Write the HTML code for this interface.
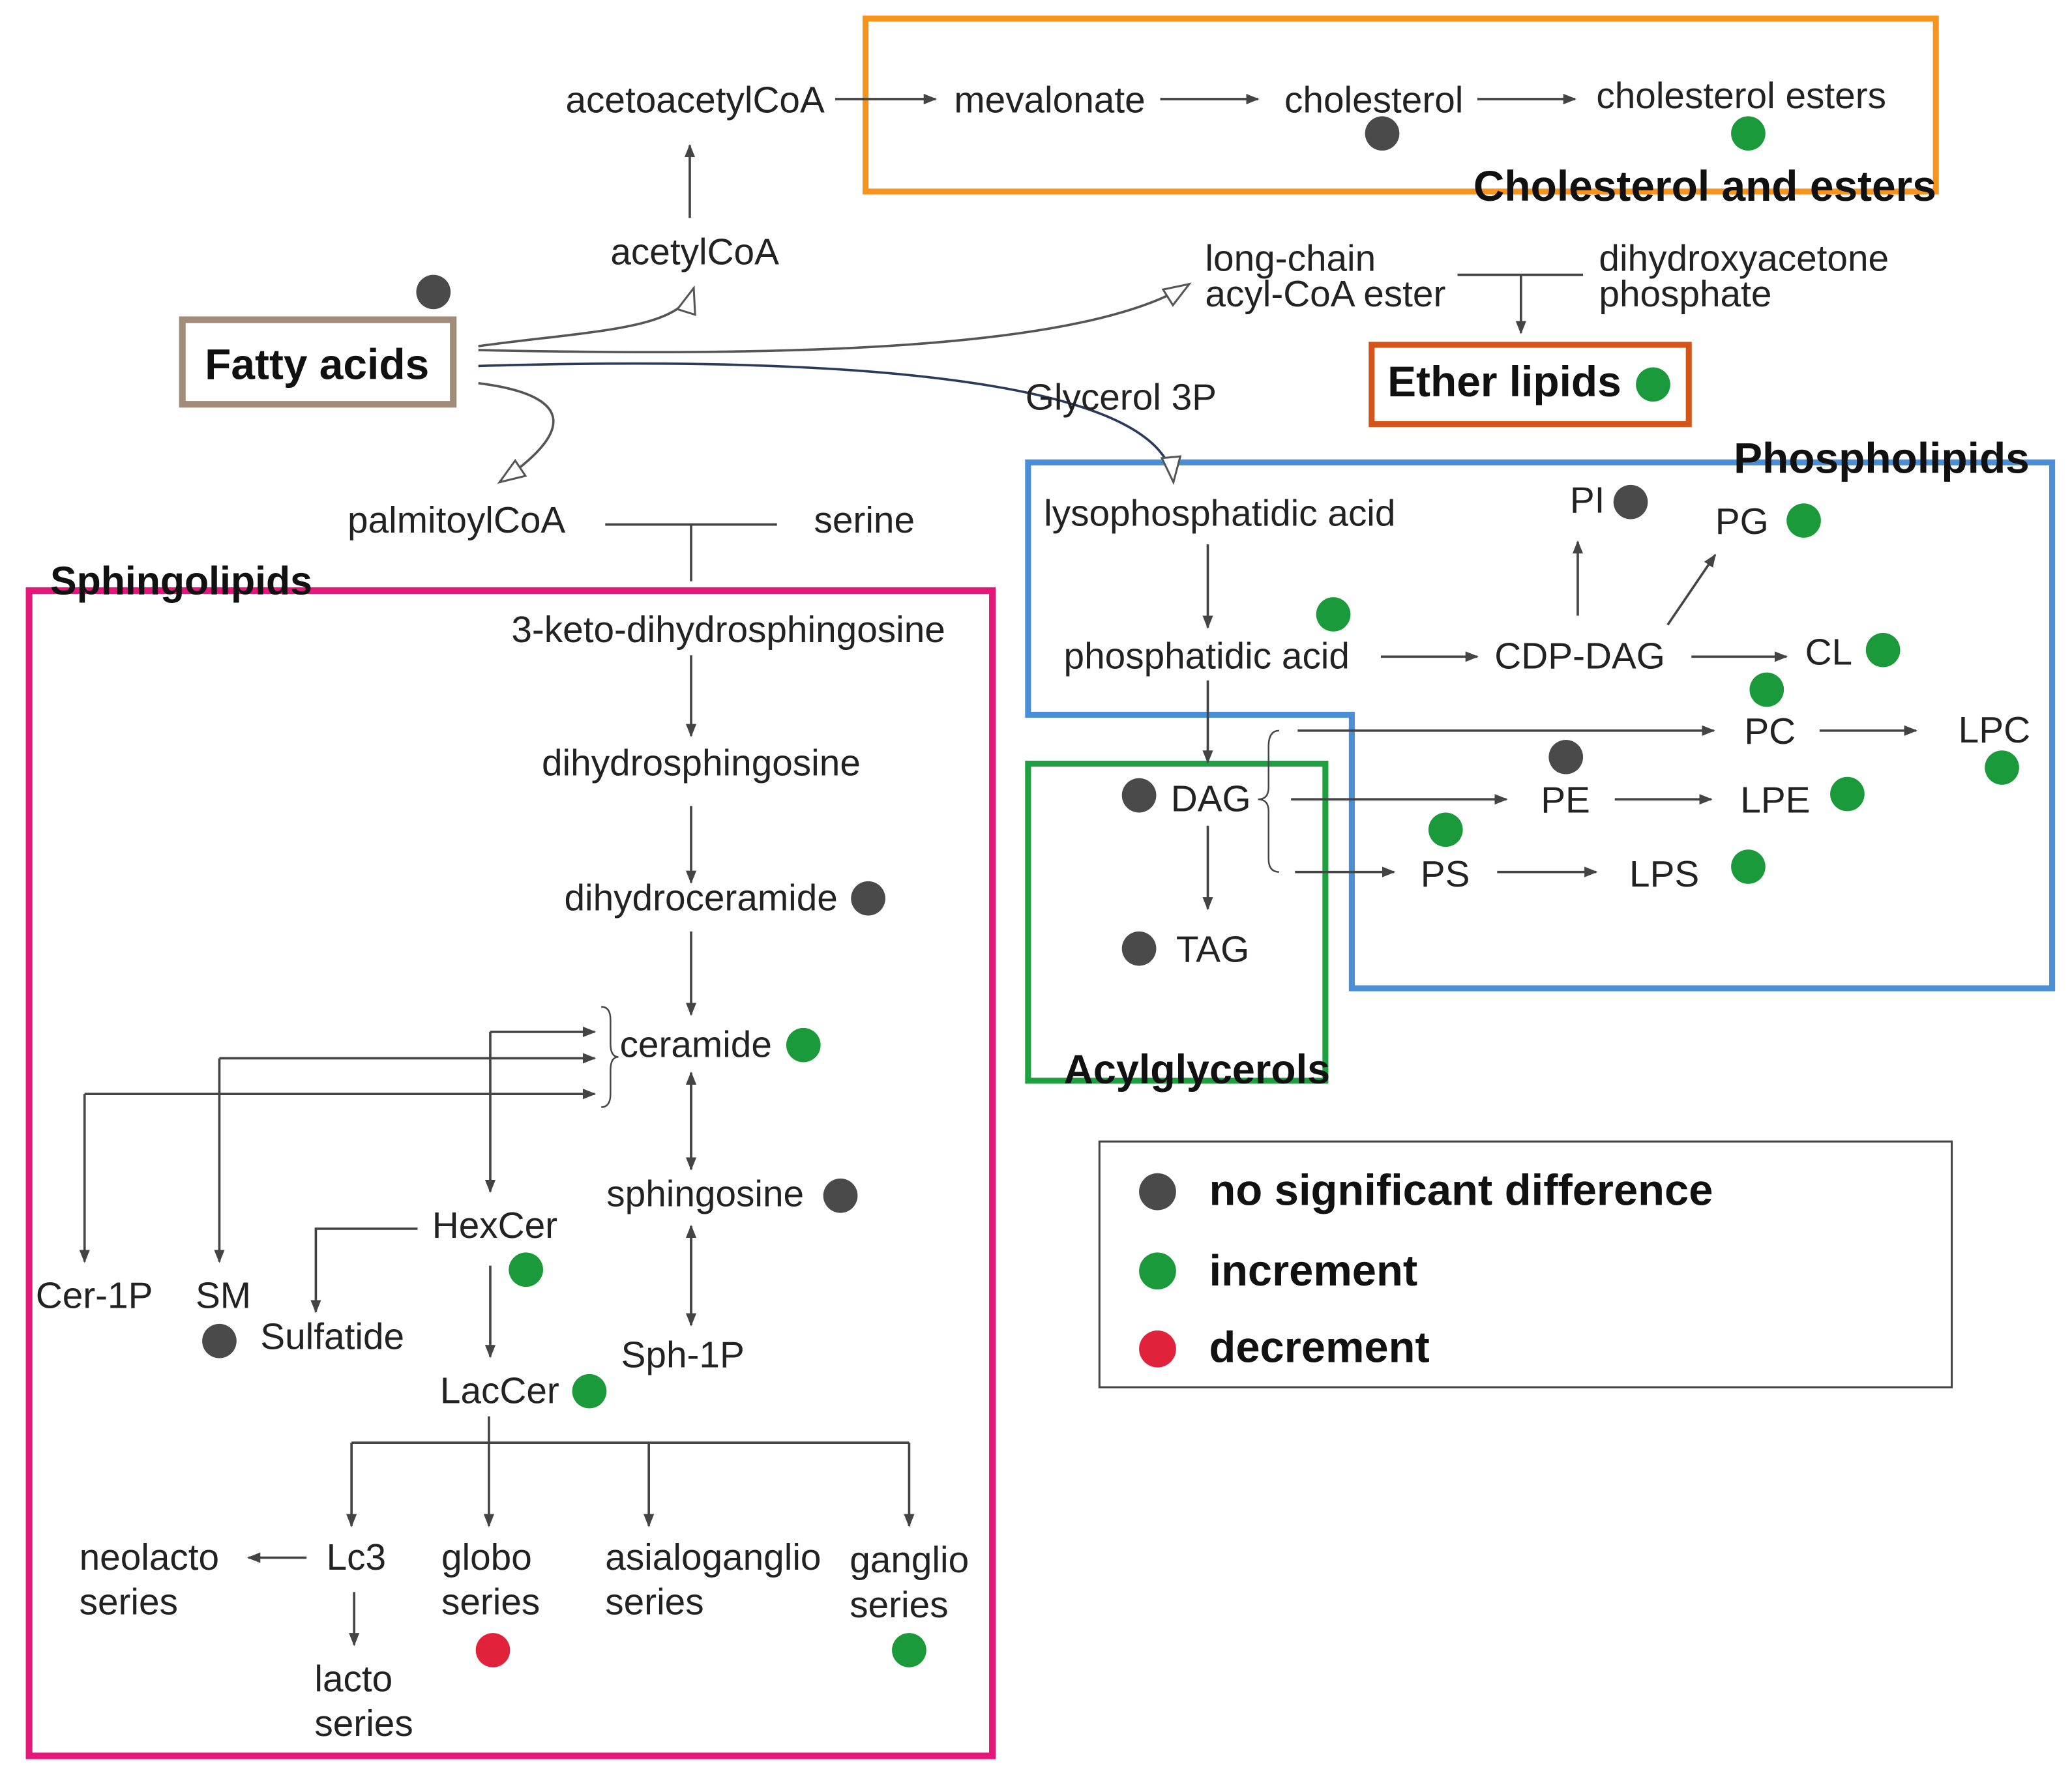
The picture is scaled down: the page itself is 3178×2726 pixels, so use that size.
<!DOCTYPE html>
<html><head><meta charset="utf-8"><style>
html,body{margin:0;padding:0;background:#fff}
svg{display:block}
text{font-family:"Liberation Sans",sans-serif;fill:#222;font-size:28px}
.b{font-weight:bold;font-size:33px;fill:#111}
</style></head><body>
<svg width="3178" height="2726" viewBox="0 0 1568 1345" xmlns="http://www.w3.org/2000/svg">
<defs>
<marker id="a" markerWidth="10" markerHeight="10" refX="9" refY="5" orient="auto" markerUnits="userSpaceOnUse"><path d="M0,1 L10,5 L0,9 z" fill="#444"/></marker>
<marker id="o" markerWidth="22" markerHeight="18" refX="20" refY="9" orient="auto" markerUnits="userSpaceOnUse"><path d="M1,2 L20,9 L1,16 z" fill="#fff" stroke="#555" stroke-width="1.5"/></marker>
</defs>
<g fill="none" stroke-width="4.5">
<rect x="655" y="14" width="810" height="131" stroke="#F7941D"/>
<rect x="138" y="242" width="205" height="64" stroke="#A08C78" stroke-width="5"/>
<rect x="1038" y="261" width="240" height="60" stroke="#D4541A"/>
<path d="M778,350 H1553 V748 H1023 V541 H778 Z" stroke="#4A8FD6"/>
<rect x="778" y="578" width="225" height="240" stroke="#1FA040"/>
<rect x="22" y="447" width="729" height="882" stroke="#E5177B" stroke-width="5"/>
<rect x="832" y="864" width="645" height="186" stroke="#444" stroke-width="1.5"/>
</g>
<g stroke="#444" stroke-width="1.8" fill="none" marker-end="url(#a)">
<line x1="632" y1="75" x2="708" y2="75"/><line x1="878" y1="75" x2="952" y2="75"/><line x1="1118" y1="75" x2="1192" y2="75"/>
<line x1="522" y1="165" x2="522" y2="110"/>
<line x1="1151" y1="208" x2="1151" y2="252"/>
<line x1="914" y1="412" x2="914" y2="475"/><line x1="1045" y1="497" x2="1118" y2="497"/>
<line x1="1194" y1="466" x2="1194" y2="410"/><line x1="1262" y1="473" x2="1298" y2="420"/>
<line x1="1280" y1="497" x2="1352" y2="497"/>
<line x1="982" y1="553" x2="1297" y2="553"/><line x1="1377" y1="553" x2="1450" y2="553"/>
<line x1="977" y1="605" x2="1140" y2="605"/><line x1="1222" y1="605" x2="1295" y2="605"/>
<line x1="980" y1="660" x2="1055" y2="660"/><line x1="1133" y1="660" x2="1208" y2="660"/>
<line x1="914" y1="515" x2="914" y2="577"/><line x1="914" y1="625" x2="914" y2="688"/>
<line x1="523" y1="496" x2="523" y2="557"/><line x1="523" y1="610" x2="523" y2="668"/><line x1="523" y1="705" x2="523" y2="768"/>
<line x1="523" y1="812" x2="523" y2="885"/><line x1="523" y1="885" x2="523" y2="812"/>
<line x1="523" y1="928" x2="523" y2="1003"/><line x1="523" y1="1003" x2="523" y2="928"/>
<line x1="371" y1="781" x2="450" y2="781"/><line x1="371" y1="781" x2="371" y2="902"/>
<line x1="166" y1="801" x2="450" y2="801"/><line x1="166" y1="801" x2="166" y2="955"/>
<line x1="64" y1="828" x2="450" y2="828"/><line x1="64" y1="828" x2="64" y2="955"/>
<path d="M316,930 H239 V993"/>
<line x1="371" y1="958" x2="371" y2="1027"/>
<line x1="370" y1="1072" x2="370" y2="1155"/>
<path d="M266,1092 V1155"/><path d="M491,1092 V1155"/><path d="M688,1092 V1155"/>
<line x1="232" y1="1179" x2="188" y2="1179"/><line x1="268" y1="1205" x2="268" y2="1245"/>
</g>
<g stroke="#444" stroke-width="1.8" fill="none">
<line x1="1103" y1="208" x2="1198" y2="208"/>
<line x1="458" y1="397" x2="588" y2="397"/><line x1="523" y1="397" x2="523" y2="440"/>
<line x1="266" y1="1092" x2="688" y2="1092"/>
<path d="M968,553 Q960,553 960,565 V596 Q960,605 952,605 Q960,605 960,614 V650 Q960,660 968,660" stroke-width="1.2"/>
<path d="M455,762 Q462,762 462,772 V790 Q462,800 468,800 Q462,800 462,810 V828 Q462,838 455,838" stroke-width="1.2"/>
</g>
<g fill="none" stroke="#555" stroke-width="1.8" marker-end="url(#o)">
<path d="M362,262 C450,250 515,250 525,218"/>
<path d="M362,265 C600,270 820,265 900,215"/>
<path d="M362,277 C600,270 880,280 888,365" stroke="#2a3a5a"/>
<path d="M362,290 C440,300 430,330 378,365"/>
</g>
<g fill="#4a4a4a">
<circle cx="1046" cy="101" r="13"/><circle cx="328" cy="221" r="13"/><circle cx="1234" cy="380" r="13"/>
<circle cx="1185" cy="573" r="13"/><circle cx="862" cy="602" r="13"/><circle cx="862" cy="718" r="13"/>
<circle cx="657" cy="680" r="13"/><circle cx="636" cy="905" r="13"/><circle cx="166" cy="1015" r="13"/>
<circle cx="876" cy="902" r="14"/>
</g>
<g fill="#1a9a3a">
<circle cx="1323" cy="101" r="13"/><circle cx="1251" cy="291" r="13"/><circle cx="1009" cy="465" r="13"/>
<circle cx="1365" cy="394" r="13"/><circle cx="1425" cy="492" r="13"/><circle cx="1337" cy="522" r="13"/>
<circle cx="1515" cy="581" r="13"/><circle cx="1398" cy="601" r="13"/><circle cx="1094" cy="628" r="13"/>
<circle cx="1323" cy="656" r="13"/><circle cx="608" cy="791" r="13"/><circle cx="398" cy="961" r="13"/>
<circle cx="446" cy="1053" r="13"/><circle cx="688" cy="1249" r="13"/><circle cx="876" cy="962" r="14"/>
</g>
<g fill="#e0223a"><circle cx="373" cy="1249" r="13"/><circle cx="876" cy="1021" r="14"/></g>
<text x="428" y="85">acetoacetylCoA</text><text x="722" y="85">mevalonate</text><text x="972" y="85">cholesterol</text><text x="1208" y="82">cholesterol esters</text>
<text class="b" x="1115" y="152" style="font-size:32.5px">Cholesterol and esters</text>
<text x="462" y="200">acetylCoA</text>
<text class="b" x="155" y="287" style="font-size:32.5px">Fatty acids</text>
<text x="912" y="205">long-chain</text><text x="912" y="232">acyl-CoA ester</text>
<text x="1210" y="205">dihydroxyacetone</text><text x="1210" y="232">phosphate</text>
<text class="b" x="1050" y="300" style="font-size:32.5px">Ether lipids</text>
<text x="776" y="310">Glycerol 3P</text>
<text class="b" x="1312" y="358" style="font-size:32.5px">Phospholipids</text>
<text x="790" y="398">lysophosphatidic acid</text>
<text x="1188" y="388">PI</text><text x="1298" y="404">PG</text>
<text x="805" y="506">phosphatidic acid</text><text x="1131" y="506">CDP-DAG</text><text x="1366" y="503">CL</text>
<text x="1320" y="563">PC</text><text x="1482" y="562">LPC</text>
<text x="886" y="614">DAG</text><text x="1166" y="615">PE</text><text x="1317" y="615">LPE</text>
<text x="1075" y="671">PS</text><text x="1233" y="671">LPS</text>
<text x="890" y="728">TAG</text>
<text class="b" x="805" y="820" style="font-size:31px">Acylglycerols</text>
<text x="263" y="403">palmitoylCoA</text><text x="616" y="403">serine</text>
<text class="b" x="38" y="450" style="font-size:30px">Sphingolipids</text>
<text x="387" y="486">3-keto-dihydrosphingosine</text>
<text x="410" y="587">dihydrosphingosine</text>
<text x="427" y="689">dihydroceramide</text>
<text x="469" y="800">ceramide</text>
<text x="459" y="913">sphingosine</text>
<text x="327" y="937">HexCer</text>
<text x="27" y="990">Cer-1P</text><text x="148" y="990">SM</text><text x="197" y="1021">Sulfatide</text>
<text x="470" y="1035">Sph-1P</text>
<text x="333" y="1062">LacCer</text>
<text x="60" y="1188">neolacto</text><text x="60" y="1222">series</text>
<text x="247" y="1188">Lc3</text>
<text x="334" y="1188">globo</text><text x="334" y="1222">series</text>
<text x="458" y="1188">asialoganglio</text><text x="458" y="1222">series</text>
<text x="643" y="1190">ganglio</text><text x="643" y="1224">series</text>
<text x="238" y="1280">lacto</text><text x="238" y="1314">series</text>
<text class="b" x="915" y="912">no significant difference</text>
<text class="b" x="915" y="973">increment</text>
<text class="b" x="915" y="1031">decrement</text>
</svg>
</body></html>
